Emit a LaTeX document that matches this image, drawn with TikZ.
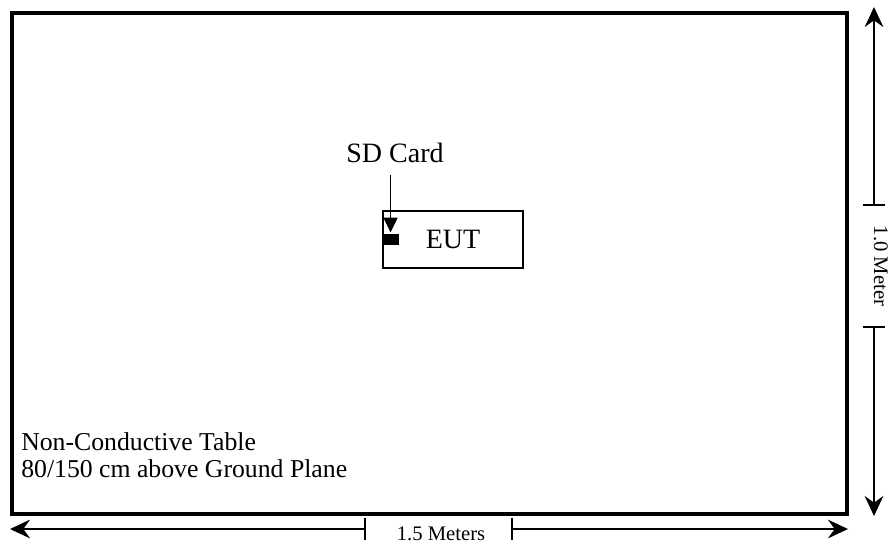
\documentclass[tikz,border=0pt]{standalone}
\usepackage{fontspec}
\setmainfont{Liberation Serif}
\usetikzlibrary{arrows.meta}
\usetikzlibrary{positioning}

\begin{document}
\begin{tikzpicture}[x=0.75pt, y=-0.75pt,
  tableEdge/.style={draw=black, line width=2.3pt},
  dimLine/.style={black, line width=1pt, -{Stealth[length=15pt, width=14pt, inset=5pt]}},
  dimTick/.style={black, line width=1pt},
  dimText/.style={font=\fontsize{15.5}{18}\selectfont, inner sep=0pt},
  eutBox/.style={draw=black, line width=1.1pt, minimum width=105pt, minimum height=42.75pt,
    inner sep=0pt, font=\fontsize{21}{24}\selectfont},
  sdCard/.style={fill=black, minimum width=12pt, minimum height=8.25pt, inner sep=0pt},
  sdArrow/.style={black, line width=1.1pt, -{Triangle[length=11pt, width=10.5pt]}},
  bigText/.style={font=\fontsize{21}{24}\selectfont, inner sep=0pt},
  noteText/.style={font=\fontsize{19.3}{21}\selectfont, inner sep=0pt}]

  % Page frame (reference margins)
  \useasboundingbox (0,0) rectangle (892,544);

  % --- Table top ---
  \coordinate (tableNW) at (12,13);
  \coordinate (tableSE) at (847,514);
  \draw[tableEdge] (tableNW) rectangle (tableSE);

  \node[noteText, anchor=base west] (tableName) at (21,450) {Non-Conductive Table};
  \node[noteText, anchor=base west] (tableHeight) at (21,477) {80/150 cm above Ground Plane};

  % --- EUT and SD card ---
  \node[eutBox] (eut) at (453,239.5) {EUT};
  \node[sdCard, anchor=west] (sd) at (eut.west) {};
  \node[bigText, anchor=base] (sdLabel) at (395,162) {SD Card};
  \draw[sdArrow, shorten >=1pt] ([yshift=-9pt]sdLabel.south -| sd.north) -- (sd.north);

  % --- Width: 1.5 Meters ---
  \coordinate (wLeft) at (10,529);
  \coordinate (wRight) at (848,529);
  \coordinate (wTickA) at (365,529);
  \coordinate (wTickB) at (512,529);
  \node[dimText, anchor=base] (wText) at (441,540) {1.5 Meters};
  \draw[dimLine] (wTickA) -- (wLeft);
  \draw[dimLine] (wTickB) -- (wRight);
  \draw[dimTick] ([yshift=8.5pt]wTickA) -- ([yshift=-8.5pt]wTickA);
  \draw[dimTick] ([yshift=8.5pt]wTickB) -- ([yshift=-8.5pt]wTickB);

  % --- Depth: 1.0 Meter ---
  \coordinate (dTop) at (874,7);
  \coordinate (dBottom) at (874,516);
  \coordinate (dTickA) at (874,205);
  \coordinate (dTickB) at (874,327);
  \node[dimText, anchor=base, rotate=-90] (dText) at (874,266) {1.0 Meter};
  \draw[dimLine] (dTickA) -- (dTop);
  \draw[dimLine] (dTickB) -- (dBottom);
  \draw[dimTick] ([xshift=-8.5pt]dTickA) -- ([xshift=8.5pt]dTickA);
  \draw[dimTick] ([xshift=-8.5pt]dTickB) -- ([xshift=8.5pt]dTickB);

\end{tikzpicture}
\end{document}
